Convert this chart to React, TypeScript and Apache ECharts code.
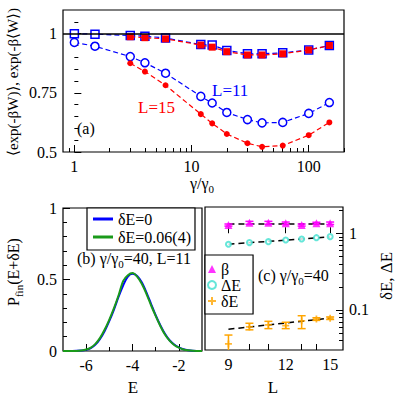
import React, { useEffect, useRef } from 'react';
import * as echarts from 'echarts';

// Panel (a)
const gammaL11 = [1, 1.5, 3, 4, 6, 12, 15, 20, 30, 40, 60, 100, 150];
const gammaL15 = [3, 4, 6, 12, 15, 20, 30, 40, 60, 100, 150];
const avgExpL11 = [1.0, 0.998, 0.992, 0.989, 0.982, 0.954, 0.952, 0.929, 0.915, 0.915, 0.919, 0.931, 0.95];
const avgExpL15 = [0.987, 0.983, 0.978, 0.952, 0.943, 0.924, 0.91, 0.91, 0.915, 0.931, 0.95];
const expAvgL11 = [0.963, 0.947, 0.903, 0.877, 0.833, 0.735, 0.707, 0.667, 0.637, 0.623, 0.625, 0.663, 0.709];
const expAvgL15 = [0.875, 0.84, 0.782, 0.66, 0.621, 0.576, 0.537, 0.522, 0.527, 0.571, 0.625];

// Panel (b)
const energy = [-7, -6.6, -6.2, -6.0, -5.8, -5.6, -5.4, -5.2, -5.0, -4.8, -4.6, -4.4, -4.2, -4.0, -3.8, -3.6, -3.4, -3.2, -3.0, -2.8, -2.6, -2.4, -2.2, -2.0, -1.8, -1.6, -1.4, -1.0];
const pFinZero = [0, 0, 0.003, 0.008, 0.02, 0.045, 0.085, 0.14, 0.21, 0.29, 0.38, 0.46, 0.52, 0.54, 0.525, 0.48, 0.41, 0.33, 0.25, 0.18, 0.12, 0.075, 0.045, 0.025, 0.012, 0.005, 0.002, 0];
const pFinShift = [0, 0, 0.004, 0.01, 0.024, 0.05, 0.092, 0.15, 0.22, 0.3, 0.39, 0.49, 0.53, 0.545, 0.52, 0.47, 0.4, 0.32, 0.245, 0.175, 0.115, 0.072, 0.042, 0.023, 0.011, 0.005, 0.002, 0];

// Panel (c)
const sizesL = [9, 10, 11, 12, 13, 14, 15];
const betaVals = [1.28, 1.37, 1.37, 1.35, 1.28, 1.35, 1.35];
const betaErr = [0.04, 0.06, 0.06, 0.05, 0.04, 0.04, 0.05];
const bigDeltaE = [0.72, 0.755, 0.777, 0.818, 0.843, 0.876, 0.903];
const smallDeltaE = [0.036, 0.06, 0.064, 0.0625, 0.072, 0.076, 0.078];
const smallDeltaELo = [0.025, 0.055, 0.057, 0.057, 0.057, 0.073, 0.075];
const smallDeltaEHi = [0.047, 0.067, 0.071, 0.069, 0.084, 0.079, 0.081];
const fitL = [9, 15];
const fitBeta = [1.32, 1.32];
const fitBig = [0.72, 0.895];
const fitSmall = [0.056, 0.078];

// Tick labels
const aXMajor = [1, 10, 100];
const aXMinor = [0.9, 2, 3, 4, 5, 6, 7, 8, 9, 20, 30, 40, 50, 60, 70, 80, 90, 200];
const aYMajor = [0.5, 0.75, 1];
const aYMinor = [0.55, 0.6, 0.65, 0.7, 0.8, 0.85, 0.9, 0.95, 1.05];
const bXMajor = [-6, -4, -2];
const bXMinor = [-5, -3];
const bYMajor = [0, 0.5, 1];
const bYMinor = [0.1, 0.2, 0.3, 0.4, 0.6, 0.7, 0.8, 0.9];
const cXMajor = [9, 12, 15];
const cXMinor = [10, 11, 13, 14];
const cYMajor = [0.1, 1];
const cYMinor = [0.04, 0.05, 0.06, 0.07, 0.08, 0.09, 0.2, 0.3, 0.4, 0.5, 0.6, 0.7, 0.8, 0.9, 2];

const FONT = "'Liberation Serif', 'DejaVu Serif', 'Times New Roman', serif";
const lg = (v: number) => Math.log10(v);

const plusPath = 'path://M3,0h2v3h3v2h-3v3h-2v-3h-3v-2h3z';

function errRender(color: string, cap: number) {
  return (params: any, api: any) => {
    const x = api.value(0);
    const lo = api.value(1);
    const hi = api.value(2);
    const p1 = api.coord([x, lo]);
    const p2 = api.coord([x, hi]);
    const st = { stroke: color, lineWidth: 1.5 };
    return {
      type: 'group',
      children: [
        { type: 'line', shape: { x1: p1[0], y1: p1[1], x2: p2[0], y2: p2[1] }, style: st },
        { type: 'line', shape: { x1: p1[0] - cap, y1: p1[1], x2: p1[0] + cap, y2: p1[1] }, style: st },
        { type: 'line', shape: { x1: p2[0] - cap, y1: p2[1], x2: p2[0] + cap, y2: p2[1] }, style: st },
      ],
    };
  };
}

const labelStyle = { fontFamily: FONT, fontSize: 16, color: '#000' };

function hiddenAxis(extra: any) {
  return {
    axisLine: { show: false },
    axisTick: { show: false },
    axisLabel: { show: false },
    splitLine: { show: false },
    ...extra,
  };
}

function tickAxis(extra: any, ticks: number[], len: number, labels?: number[], fmt?: (v: number) => string) {
  return {
    type: 'value',
    axisLine: { show: false },
    splitLine: { show: false },
    axisTick: { show: true, inside: true, length: len, customValues: ticks, lineStyle: { color: '#000', width: 1 } },
    axisLabel: labels
      ? { show: true, customValues: labels, formatter: fmt, margin: 6, ...labelStyle }
      : { show: false },
    ...extra,
  };
}

export default function App() {
  const ref = useRef<HTMLDivElement>(null);
  useEffect(() => {
    if (!ref.current) return;
    const chart = echarts.init(ref.current, undefined, { renderer: 'svg' });
    const sub = (fs: number, color = '#000') => ({
      n: { fontFamily: FONT, fontSize: fs, verticalAlign: 'top', color },
      s: { fontFamily: FONT, fontSize: Math.round(fs * 0.68), padding: [8, 0, 0, 0], verticalAlign: 'top', color },
    });
    const txt = (fs: number) => `${fs}px ${FONT}`;
    const option: any = {
      animation: false,
      backgroundColor: '#fff',
      textStyle: { fontFamily: FONT },
      grid: [
        { left: 63, top: 10, width: 281, height: 142, show: true, borderColor: '#000', borderWidth: 1.2, backgroundColor: 'transparent' },
        { left: 63, top: 208, width: 139, height: 143, show: true, borderColor: '#000', borderWidth: 1.2, backgroundColor: 'transparent' },
        { left: 205, top: 207, width: 138, height: 143, show: true, borderColor: '#000', borderWidth: 1.2, backgroundColor: 'transparent' },
      ],
      xAxis: [
        hiddenAxis({ type: 'log', logBase: 10, min: 0.8, max: 200, gridIndex: 0 }),
        tickAxis({ gridIndex: 0, min: lg(0.8), max: lg(200), position: 'bottom' }, aXMajor.map(lg), 7, aXMajor.map(lg), (v: number) => String(Math.round(Math.pow(10, v)))),
        tickAxis({ gridIndex: 0, min: lg(0.8), max: lg(200), position: 'bottom' }, aXMinor.map(lg), 4),
        tickAxis({ gridIndex: 1, min: -7, max: -1, position: 'bottom' }, bXMajor, 7, bXMajor, (v: number) => String(v)),
        tickAxis({ gridIndex: 1, min: -7, max: -1, position: 'bottom' }, bXMinor, 4),
        hiddenAxis({ type: 'log', logBase: 10, min: 8, max: 16, gridIndex: 2 }),
        tickAxis({ gridIndex: 2, min: lg(8), max: lg(16), position: 'bottom' }, cXMajor.map(lg), 6, cXMajor.map(lg), (v: number) => String(Math.round(Math.pow(10, v)))),
        tickAxis({ gridIndex: 2, min: lg(8), max: lg(16), position: 'bottom' }, cXMinor.map(lg), 6),
      ],
      yAxis: [
        tickAxis({ gridIndex: 0, min: 0.5, max: 1.1, position: 'left' }, aYMajor, 7, aYMajor, (v: number) => String(v)),
        tickAxis({ gridIndex: 0, min: 0.5, max: 1.1, position: 'left' }, aYMinor, 4),
        tickAxis({ gridIndex: 1, min: 0, max: 1, position: 'left' }, bYMajor, 7, bYMajor, (v: number) => String(v)),
        tickAxis({ gridIndex: 1, min: 0, max: 1, position: 'left' }, bYMinor, 4),
        hiddenAxis({ type: 'log', logBase: 10, min: 0.03, max: 2.2, gridIndex: 2, position: 'right' }),
        tickAxis({ gridIndex: 2, min: lg(0.03), max: lg(2.2), position: 'right' }, cYMajor.map(lg), 7, cYMajor.map(lg), (v: number) => (Math.abs(v) < 1e-6 ? '1' : '0.1')),
        tickAxis({ gridIndex: 2, min: lg(0.03), max: lg(2.2), position: 'right' }, cYMinor.map(lg), 4),
      ],
      legend: [
        {
          data: ['δE=0', 'δE=0.06(4)'],
          left: 87, top: 208, orient: 'vertical',
          icon: 'rect',
          backgroundColor: '#fff', borderColor: '#000', borderWidth: 1.2, borderRadius: 0,
          padding: [3, 4, 5, 6], itemGap: 2, itemWidth: 20, itemHeight: 3,
          textStyle: { fontFamily: FONT, fontSize: 16, color: '#000', lineHeight: 16 },
        },
        {
          data: ['β', 'ΔE', 'δE'],
          left: 205, top: 255, orient: 'vertical',
          backgroundColor: '#fff', borderColor: '#000', borderWidth: 1.2, borderRadius: 0,
          padding: [6, 12, 5, 2], itemGap: 0, itemWidth: 8, itemHeight: 8,
          textStyle: { fontFamily: FONT, fontSize: 16, color: '#000', lineHeight: 16 },
        },
      ],
      series: [
        {
          type: 'line', xAxisIndex: 0, yAxisIndex: 0,
          data: gammaL11.map((g, i) => [g, avgExpL11[i]]),
          symbol: 'rect', symbolSize: 8,
          itemStyle: { color: '#fff', borderColor: '#0000ff', borderWidth: 1.5 },
          lineStyle: { color: '#0000ff', width: 1.2, type: [5, 3] },
          markLine: {
            silent: true, symbol: 'none', label: { show: false },
            lineStyle: { color: '#000', type: 'solid', width: 1.5 },
            data: [{ yAxis: 1 }],
          },
          z: 3,
        },
        {
          type: 'line', xAxisIndex: 0, yAxisIndex: 0,
          data: gammaL15.map((g, i) => [g, avgExpL15[i]]),
          symbol: 'rect', symbolSize: 7,
          itemStyle: { color: '#ff0000' },
          lineStyle: { color: '#ff0000', width: 1.2, type: [5, 3] },
          z: 4,
        },
        {
          type: 'line', xAxisIndex: 0, yAxisIndex: 0,
          data: gammaL11.map((g, i) => [g, expAvgL11[i]]),
          symbol: 'circle', symbolSize: 8,
          itemStyle: { color: '#fff', borderColor: '#0000ff', borderWidth: 1.5 },
          lineStyle: { color: '#0000ff', width: 1.2, type: [5, 3] },
          z: 3,
        },
        {
          type: 'line', xAxisIndex: 0, yAxisIndex: 0,
          data: gammaL15.map((g, i) => [g, expAvgL15[i]]),
          symbol: 'circle', symbolSize: 6,
          itemStyle: { color: '#ff0000' },
          lineStyle: { color: '#ff0000', width: 1.2, type: [5, 3] },
          z: 4,
        },
        {
          name: 'δE=0', type: 'line', xAxisIndex: 3, yAxisIndex: 2,
          data: energy.map((e, i) => [e, pFinZero[i]]),
          symbol: 'none', smooth: 0.3,
          itemStyle: { color: '#0000ff' },
          lineStyle: { color: '#0000ff', width: 2 },
        },
        {
          name: 'δE=0.06(4)', type: 'line', xAxisIndex: 3, yAxisIndex: 2,
          data: energy.map((e, i) => [e, pFinShift[i]]),
          symbol: 'none', smooth: 0.3,
          itemStyle: { color: '#1a9a1a' },
          lineStyle: { color: '#1a9a1a', width: 2 },
        },
        {
          type: 'line', xAxisIndex: 5, yAxisIndex: 4, data: fitL.map((l, i) => [l, fitBeta[i]]),
          symbol: 'none', lineStyle: { color: '#000', width: 1.5, type: [6, 4] }, z: 1,
        },
        {
          type: 'line', xAxisIndex: 5, yAxisIndex: 4, data: fitL.map((l, i) => [l, fitBig[i]]),
          symbol: 'none', lineStyle: { color: '#000', width: 1.5, type: [6, 4] }, z: 1,
        },
        {
          type: 'line', xAxisIndex: 5, yAxisIndex: 4, data: fitL.map((l, i) => [l, fitSmall[i]]),
          symbol: 'none', lineStyle: { color: '#000', width: 1.5, type: [6, 4] }, z: 1,
        },
        {
          type: 'custom', xAxisIndex: 5, yAxisIndex: 4, clip: true,
          data: sizesL.map((l, i) => [l, betaVals[i] - betaErr[i], betaVals[i] + betaErr[i]]),
          encode: { x: 0, y: [1, 2] },
          renderItem: errRender('#ff00ff', 4), z: 2,
        },
        {
          name: 'β', type: 'scatter', xAxisIndex: 5, yAxisIndex: 4,
          data: sizesL.map((l, i) => [l, betaVals[i]]),
          symbol: 'triangle', symbolSize: 8, itemStyle: { color: '#ff00ff' }, z: 3,
        },
        {
          name: 'ΔE', type: 'scatter', xAxisIndex: 5, yAxisIndex: 4,
          data: sizesL.map((l, i) => [l, bigDeltaE[i]]),
          symbol: 'emptyCircle', symbolSize: 5,
          itemStyle: { color: '#40e0d0', borderColor: '#40e0d0', borderWidth: 1.5 }, z: 3,
        },
        {
          type: 'custom', xAxisIndex: 5, yAxisIndex: 4, clip: true,
          data: sizesL.map((l, i) => [l, smallDeltaELo[i], smallDeltaEHi[i]]),
          encode: { x: 0, y: [1, 2] },
          renderItem: errRender('#ffa500', 4), z: 2,
        },
        {
          name: 'δE', type: 'scatter', xAxisIndex: 5, yAxisIndex: 4,
          data: sizesL.map((l, i) => [l, smallDeltaE[i]]),
          symbol: plusPath, symbolSize: 7, itemStyle: { color: '#ffa500' }, z: 3,
        },
      ],
      graphic: [
        { type: 'text', x: 13, y: 82, rotation: Math.PI / 2, style: { text: '⟨exp(-βW)⟩, exp(-β⟨W⟩)', font: txt(15), fill: '#000', align: 'center', verticalAlign: 'middle' } },
        { type: 'text', x: 202, y: 185, style: { text: '{n|γ/γ}{s|0}', rich: sub(16), align: 'center', verticalAlign: 'middle' } },
        { type: 'text', x: 212, y: 90, style: { text: 'L=11', font: txt(17), fill: '#0000ff', verticalAlign: 'middle' } },
        { type: 'text', x: 138, y: 107, style: { text: 'L=15', font: txt(17), fill: '#ff0000', verticalAlign: 'middle' } },
        { type: 'text', x: 77, y: 128, style: { text: '(a)', font: txt(16), fill: '#000', verticalAlign: 'middle' } },
        { type: 'text', x: 77, y: 260, style: { text: '{n|(b) γ/γ}{s|0}{n|=40, L=11}', rich: sub(16), verticalAlign: 'middle' } },
        { type: 'text', x: 15, y: 272, rotation: Math.PI / 2, style: { text: '{n|P}{s|fin}{n|(E+δE)}', rich: sub(16), align: 'center', verticalAlign: 'middle' } },
        { type: 'text', x: 133, y: 387, style: { text: 'E', font: txt(17), fill: '#000', align: 'center', verticalAlign: 'middle' } },
        { type: 'text', x: 273, y: 387, style: { text: 'L', font: txt(17), fill: '#000', align: 'center', verticalAlign: 'middle' } },
        { type: 'text', x: 258, y: 277, style: { text: '{n|(c) γ/γ}{s|0}{n|=40}', rich: sub(16), verticalAlign: 'middle' } },
        { type: 'text', x: 386, y: 276, rotation: Math.PI / 2, style: { text: 'δE, ΔE', font: txt(17), fill: '#000', align: 'center', verticalAlign: 'middle' } },
      ],
    };
    chart.setOption(option);
    return () => chart.dispose();
  }, []);
  return <div ref={ref} style={{ position: 'fixed', left: 0, top: 0, width: 395, height: 395 }} />;
}
